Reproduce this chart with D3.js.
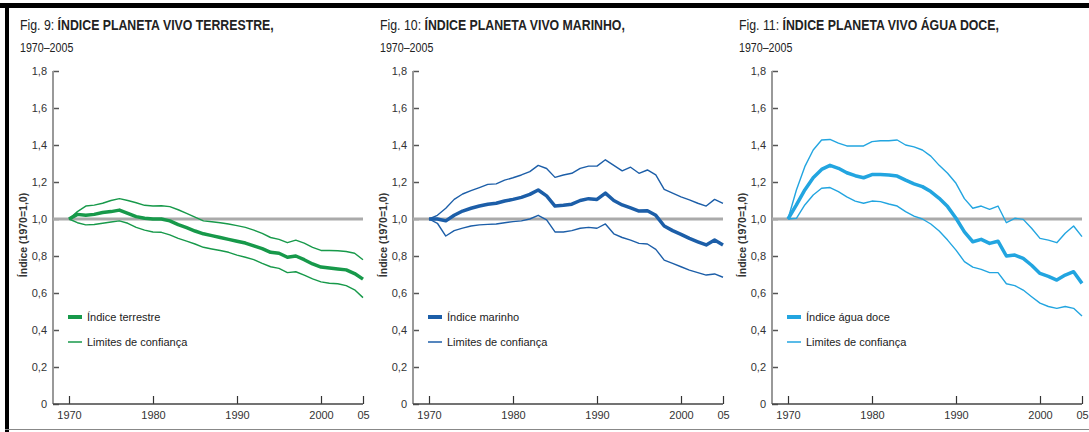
<!DOCTYPE html>
<html lang="pt">
<head>
<meta charset="utf-8">
<script src="https://cdn.jsdelivr.net/npm/d3@7"></script>
<style>
  html, body { margin: 0; padding: 0; background: #fff; }
  svg { display: block; font-family: 'Liberation Sans Narrow', 'Arial Narrow', 'Liberation Sans', sans-serif; }
</style>
</head>
<body>
<div class="svg-container"></div>
<script>
const years = d3.range(1970, 2006)

const terrestrialIndex = [1.0, 1.025, 1.02, 1.025, 1.035, 1.04, 1.048, 1.03, 1.013, 1.004, 1.0, 1.0, 0.99, 0.97, 0.953, 0.935, 0.92, 0.91, 0.9, 0.89, 0.88, 0.87, 0.855, 0.84, 0.82, 0.815, 0.793, 0.8, 0.78, 0.757, 0.74, 0.735, 0.73, 0.725, 0.705, 0.675]
const terrestrialUpper = [1.0, 1.04, 1.07, 1.075, 1.085, 1.1, 1.11, 1.1, 1.088, 1.074, 1.07, 1.072, 1.067, 1.05, 1.03, 1.01, 0.99, 0.985, 0.98, 0.973, 0.964, 0.955, 0.94, 0.922, 0.9, 0.89, 0.872, 0.886, 0.87, 0.847, 0.83, 0.83, 0.828, 0.824, 0.815, 0.78]
const terrestrialLower = [1.0, 0.98, 0.968, 0.97, 0.977, 0.984, 0.99, 0.977, 0.955, 0.94, 0.93, 0.928, 0.914, 0.895, 0.88, 0.865, 0.847, 0.838, 0.83, 0.82, 0.805, 0.793, 0.78, 0.76, 0.742, 0.733, 0.71, 0.715, 0.697, 0.676, 0.66, 0.653, 0.65, 0.64, 0.617, 0.575]

const marineIndex = [1.0, 1.0, 0.99, 1.02, 1.043, 1.058, 1.07, 1.08, 1.085, 1.097, 1.106, 1.117, 1.133, 1.157, 1.125, 1.07, 1.074, 1.08, 1.1, 1.11, 1.106, 1.14, 1.1, 1.076, 1.06, 1.043, 1.045, 1.02, 0.962, 0.937, 0.917, 0.895, 0.877, 0.86, 0.886, 0.86]
const marineUpper = [1.0, 1.02, 1.058, 1.106, 1.135, 1.153, 1.17, 1.187, 1.19, 1.21, 1.223, 1.238, 1.256, 1.29, 1.273, 1.225, 1.238, 1.247, 1.274, 1.286, 1.286, 1.32, 1.29, 1.26, 1.28, 1.247, 1.265, 1.238, 1.16, 1.14, 1.12, 1.103, 1.085, 1.07, 1.106, 1.085]
const marineLower = [1.0, 0.977, 0.908, 0.937, 0.951, 0.962, 0.968, 0.971, 0.973, 0.98, 0.986, 0.99, 1.0, 1.02, 0.995, 0.93, 0.93, 0.937, 0.95, 0.955, 0.95, 0.973, 0.92, 0.9, 0.886, 0.868, 0.865, 0.836, 0.778, 0.76, 0.742, 0.724, 0.71, 0.697, 0.703, 0.685]

const freshwaterIndex = [1.0, 1.076, 1.157, 1.223, 1.268, 1.29, 1.274, 1.25, 1.234, 1.223, 1.24, 1.24, 1.238, 1.232, 1.21, 1.19, 1.175, 1.148, 1.112, 1.067, 1.004, 0.93, 0.877, 0.89, 0.868, 0.88, 0.8, 0.805, 0.787, 0.75, 0.706, 0.69, 0.67, 0.697, 0.715, 0.652]
const freshwaterUpper = [1.0, 1.157, 1.283, 1.373, 1.427, 1.43, 1.41, 1.395, 1.395, 1.395, 1.418, 1.423, 1.423, 1.427, 1.4, 1.39, 1.373, 1.34, 1.29, 1.247, 1.193, 1.11, 1.058, 1.07, 1.052, 1.07, 0.98, 1.004, 0.998, 0.95, 0.895, 0.886, 0.872, 0.923, 0.962, 0.905]
const freshwaterLower = [1.0, 1.004, 1.076, 1.13, 1.166, 1.17, 1.148, 1.12, 1.097, 1.085, 1.097, 1.094, 1.081, 1.07, 1.04, 1.016, 1.0, 0.973, 0.935, 0.886, 0.832, 0.77, 0.74, 0.728, 0.71, 0.71, 0.65, 0.64, 0.616, 0.58, 0.545, 0.527, 0.517, 0.527, 0.517, 0.476]

const yTicks = [0, 0.2, 0.4, 0.6, 0.8, 1.0, 1.2, 1.4, 1.6, 1.8]
const xTicks = [1970, 1980, 1990, 2000, 2005]
const xTickLabels = ['1970', '1980', '1990', '2000', '05']

const figNumbers = ['Fig. 9:', 'Fig. 10:', 'Fig. 11:']
const figTitles = ['ÍNDICE PLANETA VIVO TERRESTRE,', 'ÍNDICE PLANETA VIVO MARINHO,', 'ÍNDICE PLANETA VIVO ÁGUA DOCE,']
const subtitle = '1970–2005'
const yLabel = 'Índice (1970=1,0)'
const indexLabels = ['Índice terrestre', 'Índice marinho', 'Índice água doce']
const boundsLabel = 'Limites de confiança'

const svgWidth = 1089
const svgHeight = 432

const svg = d3
  .select('.svg-container')
  .append('svg')
  .attr('width', svgWidth)
  .attr('height', svgHeight)

// frame
svg.append('line')
  .attr('x1', 0).attr('x2', svgWidth)
  .attr('y1', 5.5).attr('y2', 5.5)
  .attr('stroke', '#000').attr('stroke-width', 5)
svg.append('line')
  .attr('x1', 7).attr('x2', 7)
  .attr('y1', 3).attr('y2', svgHeight)
  .attr('stroke', '#000').attr('stroke-width', 4)
svg.append('line')
  .attr('x1', 5).attr('x2', svgWidth)
  .attr('y1', 429.5).attr('y2', 429.5)
  .attr('stroke', '#888').attr('stroke-width', 1)

const panels = [
  { x0: 0, color: '#17994a', index: terrestrialIndex, upper: terrestrialUpper, lower: terrestrialLower },
  { x0: 360, color: '#1c5ea8', index: marineIndex, upper: marineUpper, lower: marineLower },
  { x0: 719, color: '#22a5e0', index: freshwaterIndex, upper: freshwaterUpper, lower: freshwaterLower }
]

panels.forEach((p, i) => drawPanel(p, i))

function drawPanel(p, i) {
  const g = svg.append('g').attr('transform', `translate(${p.x0}, 0)`)
  const axisX = 53

  const xScale = d3.scaleLinear([1970, 2005], [69, 363])
  const yScale = d3.scaleLinear([0, 1.8], [404, 71])

  // titles (condensed type, squeezed horizontally)
  const title = g.append('text')
    .attr('transform', 'translate(20, 30) scale(0.85, 1)')
    .style('font-size', '14.5px')
    .attr('fill', '#222')
  title.append('tspan').text(figNumbers[i] + ' ')
  title.append('tspan').attr('font-weight', 'bold').text(figTitles[i])

  g.append('text')
    .attr('transform', 'translate(20, 52) scale(0.82, 1)')
    .style('font-size', '13px')
    .attr('fill', '#222')
    .text(subtitle)

  // y axis
  const yAxis = g.append('g')
    .attr('transform', `translate(${axisX}, 0)`)
    .call(d3.axisRight(yScale).tickValues(yTicks).tickSize(6).tickFormat(d => d3.format('.1f')(d).replace('.', ',').replace('0,0', '0')))
  yAxis.select('.domain').remove()
  yAxis.selectAll('.tick line').attr('stroke', '#555').attr('stroke-width', 1.5)
  yAxis.selectAll('.tick text')
    .attr('x', -6)
    .attr('text-anchor', 'end')
    .style('font-size', '11px')
    .style('font-family', "'Liberation Sans Narrow', 'Arial Narrow', sans-serif")
    .attr('fill', '#333')

  g.append('line')
    .attr('x1', axisX).attr('x2', axisX)
    .attr('y1', yScale(1.8)).attr('y2', yScale(0))
    .attr('stroke', '#999').attr('stroke-width', 2)

  // x axis
  const xAxis = g.append('g')
    .attr('transform', `translate(0, ${yScale(0)})`)
    .call(d3.axisTop(xScale).tickValues(xTicks).tickSize(8).tickFormat((d, k) => xTickLabels[k]))
  xAxis.select('.domain').remove()
  xAxis.selectAll('.tick line').attr('stroke', '#333').attr('stroke-width', 1.2)
  xAxis.selectAll('.tick text')
    .attr('y', 15)
    .attr('dy', 0)
    .style('font-size', '11px')
    .style('font-family', "'Liberation Sans Narrow', 'Arial Narrow', sans-serif")
    .attr('fill', '#333')

  g.append('line')
    .attr('x1', axisX).attr('x2', xScale(2005))
    .attr('y1', yScale(0)).attr('y2', yScale(0))
    .attr('stroke', '#444').attr('stroke-width', 1.5)

  // y label
  g.append('text')
    .attr('transform', `translate(27, 235) rotate(-90)`)
    .attr('text-anchor', 'middle')
    .style('font-size', '10.5px')
    .attr('font-weight', 'bold')
    .attr('fill', '#333')
    .text(yLabel)

  // reference line at 1,0
  g.append('line')
    .attr('x1', axisX).attr('x2', xScale(2005))
    .attr('y1', yScale(1)).attr('y2', yScale(1))
    .attr('stroke', '#aaa').attr('stroke-width', 3)

  const line = d3.line()
    .x((d, k) => xScale(years[k]))
    .y(d => yScale(d))

  ;[p.upper, p.lower].forEach(series => {
    g.append('path')
      .datum(series)
      .attr('d', line)
      .attr('fill', 'none')
      .attr('stroke', p.color)
      .attr('stroke-width', 1.4)
      .attr('stroke-linejoin', 'round')
  })

  g.append('path')
    .datum(p.index)
    .attr('d', line)
    .attr('fill', 'none')
    .attr('stroke', p.color)
    .attr('stroke-width', 3.5)
    .attr('stroke-linejoin', 'round')

  // legend
  const legend = g.append('g').attr('transform', 'translate(68, 317)')
  ;[indexLabels[i], boundsLabel].forEach((label, k) => {
    const row = legend.append('g').attr('transform', `translate(0, ${k * 25})`)
    row.append('line')
      .attr('x1', 0).attr('x2', 14)
      .attr('stroke', p.color)
      .attr('stroke-width', k === 0 ? 4 : 1.5)
    row.append('text')
      .attr('x', 19)
      .attr('y', 4)
      .style('font-size', '11px')
      .attr('fill', '#222')
      .text(label)
  })
}
</script>
</body>
</html>
